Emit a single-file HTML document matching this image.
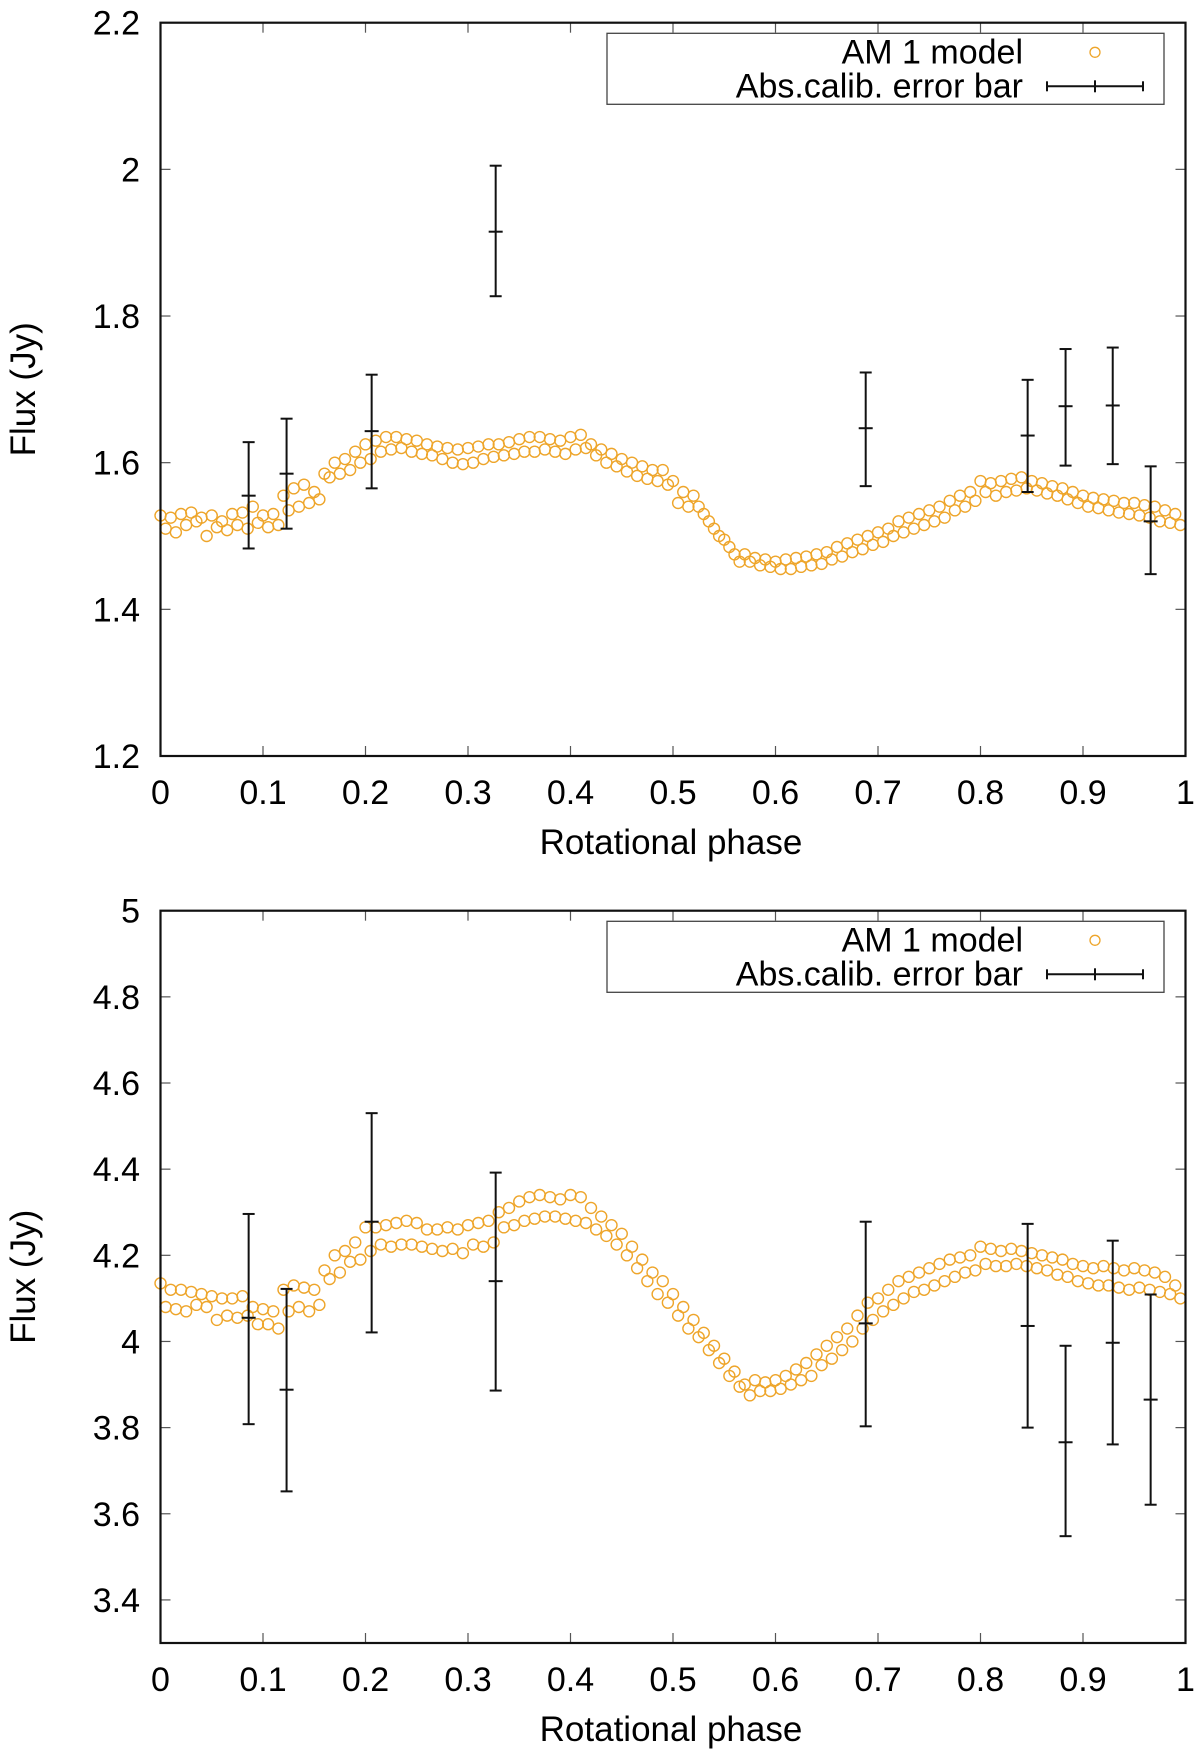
<!DOCTYPE html>
<html><head><meta charset="utf-8"><style>
html,body{margin:0;padding:0;background:#fff;}
svg{display:block;font-family:"Liberation Sans",Arial,sans-serif;}
</style></head><body>
<svg id="chart" width="1200" height="1757" viewBox="0 0 1200 1757" xmlns="http://www.w3.org/2000/svg"></svg>
<script>
// ---- data ----
const phases = [0.00,0.01,0.02,0.03,0.04,0.05,0.06,0.07,0.08,0.09,0.10,0.11,0.12,0.13,0.14,0.15,0.16,0.17,0.18,0.19,0.20,0.21,0.22,0.23,0.24,0.25,0.26,0.27,0.28,0.29,0.30,0.31,0.32,0.33,0.34,0.35,0.36,0.37,0.38,0.39,0.40,0.41,0.42,0.43,0.44,0.45,0.46,0.47,0.48,0.49,0.50,0.51,0.52,0.53,0.54,0.55,0.56,0.57,0.58,0.59,0.60,0.61,0.62,0.63,0.64,0.65,0.66,0.67,0.68,0.69,0.70,0.71,0.72,0.73,0.74,0.75,0.76,0.77,0.78,0.79,0.80,0.81,0.82,0.83,0.84,0.85,0.86,0.87,0.88,0.89,0.90,0.91,0.92,0.93,0.94,0.95,0.96,0.97,0.98,0.99];
const topModelA = [1.528,1.525,1.53,1.532,1.525,1.528,1.52,1.53,1.532,1.54,1.528,1.53,1.555,1.565,1.57,1.56,1.585,1.60,1.605,1.615,1.625,1.63,1.635,1.635,1.632,1.63,1.625,1.622,1.62,1.618,1.62,1.622,1.625,1.625,1.628,1.632,1.635,1.635,1.632,1.63,1.635,1.638,1.625,1.618,1.612,1.605,1.60,1.595,1.59,1.59,1.575,1.56,1.555,1.53,1.51,1.495,1.475,1.475,1.47,1.468,1.465,1.468,1.47,1.472,1.475,1.478,1.485,1.49,1.495,1.50,1.505,1.51,1.52,1.525,1.53,1.535,1.54,1.548,1.555,1.56,1.575,1.572,1.575,1.578,1.58,1.575,1.572,1.568,1.565,1.56,1.555,1.552,1.55,1.548,1.545,1.545,1.542,1.54,1.535,1.53];
const topModelB = [1.51,1.505,1.515,1.52,1.50,1.512,1.508,1.515,1.51,1.518,1.512,1.515,1.535,1.54,1.545,1.55,1.58,1.585,1.59,1.60,1.605,1.615,1.618,1.62,1.615,1.612,1.61,1.605,1.60,1.598,1.60,1.605,1.608,1.61,1.612,1.615,1.615,1.618,1.615,1.612,1.618,1.62,1.61,1.60,1.595,1.588,1.582,1.578,1.575,1.57,1.545,1.54,1.54,1.52,1.50,1.485,1.465,1.465,1.46,1.458,1.455,1.455,1.458,1.46,1.462,1.468,1.472,1.478,1.482,1.488,1.492,1.50,1.505,1.51,1.515,1.52,1.525,1.535,1.54,1.548,1.56,1.555,1.56,1.562,1.565,1.562,1.558,1.555,1.55,1.545,1.54,1.538,1.535,1.532,1.53,1.528,1.525,1.52,1.518,1.515];
const botModelA = [4.135,4.12,4.12,4.115,4.11,4.105,4.10,4.10,4.105,4.08,4.075,4.07,4.12,4.13,4.125,4.12,4.165,4.20,4.21,4.23,4.265,4.265,4.27,4.275,4.28,4.275,4.26,4.26,4.265,4.26,4.27,4.275,4.28,4.30,4.31,4.325,4.335,4.34,4.335,4.33,4.34,4.335,4.31,4.29,4.27,4.25,4.22,4.19,4.16,4.14,4.11,4.08,4.05,4.02,3.99,3.96,3.93,3.90,3.91,3.905,3.91,3.92,3.935,3.95,3.97,3.99,4.01,4.03,4.06,4.09,4.10,4.12,4.14,4.15,4.16,4.17,4.18,4.19,4.195,4.20,4.22,4.215,4.21,4.215,4.21,4.205,4.20,4.195,4.19,4.18,4.175,4.17,4.175,4.17,4.165,4.17,4.165,4.16,4.15,4.13];
const botModelB = [4.08,4.075,4.07,4.085,4.08,4.05,4.06,4.055,4.06,4.04,4.04,4.03,4.07,4.08,4.07,4.085,4.145,4.16,4.185,4.19,4.21,4.225,4.22,4.225,4.225,4.22,4.215,4.21,4.215,4.205,4.225,4.22,4.23,4.265,4.27,4.28,4.285,4.29,4.29,4.285,4.28,4.275,4.26,4.245,4.225,4.20,4.17,4.14,4.11,4.09,4.06,4.03,4.01,3.98,3.95,3.92,3.895,3.875,3.885,3.885,3.89,3.90,3.91,3.92,3.945,3.96,3.98,4.00,4.03,4.05,4.07,4.085,4.10,4.115,4.12,4.13,4.14,4.15,4.16,4.165,4.18,4.175,4.175,4.18,4.175,4.17,4.165,4.155,4.15,4.14,4.135,4.13,4.13,4.125,4.12,4.125,4.12,4.115,4.11,4.10];
const obsPhase = [0.086,0.123,0.206,0.327,0.688,0.846,0.883,0.929,0.966];
const topObs = [1.555,1.585,1.643,1.915,1.647,1.637,1.677,1.678,1.52];
const topObsLo = [1.483,1.51,1.565,1.827,1.568,1.56,1.596,1.598,1.448];
const topObsHi = [1.628,1.66,1.72,2.005,1.723,1.713,1.755,1.757,1.595];
const botObs = [4.055,3.888,4.278,4.14,4.042,4.036,3.766,3.997,3.865];
const botObsLo = [3.808,3.652,4.021,3.886,3.803,3.8,3.548,3.761,3.621];
const botObsHi = [4.296,4.122,4.53,4.392,4.278,4.273,3.99,4.234,4.109];
const xTicks = [0,0.1,0.2,0.3,0.4,0.5,0.6,0.7,0.8,0.9,1];
const xTickLabels = ["0","0.1","0.2","0.3","0.4","0.5","0.6","0.7","0.8","0.9","1"];
const topYTicks = [1.2,1.4,1.6,1.8,2.0,2.2];
const topYTickLabels = ["1.2","1.4","1.6","1.8","2","2.2"];
const botYTicks = [3.4,3.6,3.8,4.0,4.2,4.4,4.6,4.8,5.0];
const botYTickLabels = ["3.4","3.6","3.8","4","4.2","4.4","4.6","4.8","5"];

const NS = "http://www.w3.org/2000/svg";
const svg = document.getElementById('chart');
const ORANGE = "#eea52a";
const FS = 34;
function mk(tag, attrs, parent){const e=document.createElementNS(NS,tag);for(const k in attrs)e.setAttribute(k,attrs[k]);(parent||svg).appendChild(e);return e;}

function panel(cfg){
  const g = mk('g',{});
  
  
  const L=160.5,R=1185.5,T=cfg.top,B=cfg.bottom;
  const xs = v => L + (v-0)/(1-0)*(R-L);
  const ys = v => T + (cfg.ymax - v)/(cfg.ymax - cfg.ymin)*(B-T);
  xTicks.forEach((t,i)=>{
    const x=xs(t);
    if(i>0&&i<xTicks.length-1){
      const a=mk('line',{x1:x,x2:x,y1:B,y2:B-10,stroke:'#555','stroke-width':1.2},g);
       
      const b=mk('line',{x1:x,x2:x,y1:T,y2:T+10,stroke:'#555','stroke-width':1.2},g);
       
    }
    const tx=mk('text',{x:x,y:B+cfg.xlabOff,'text-anchor':'middle','font-size':FS,fill:'#000'},g);
    tx.textContent=xTickLabels[i];
     
  });
  cfg.yticks.forEach((t,i)=>{
    const y=ys(t);
    const a=mk('line',{x1:L,x2:L+10,y1:y,y2:y,stroke:'#555','stroke-width':1.2},g);
     
    const b=mk('line',{x1:R,x2:R-10,y1:y,y2:y,stroke:'#555','stroke-width':1.2},g);
     
    const tx=mk('text',{x:140,y:y+12,'text-anchor':'end','font-size':FS,fill:'#000'},g);
    tx.textContent=cfg.ylabels[i];
     
  });
  const mg=mk('g',{fill:'none',stroke:ORANGE,'stroke-width':1.4},g);
   
  phases.forEach((p,i)=>{
    const c1=mk('circle',{cx:xs(p),cy:ys(cfg.modelA[i]),r:5.5},mg);
     
    const c2=mk('circle',{cx:xs(p+0.005),cy:ys(cfg.modelB[i]),r:5.5},mg);
     
  });
  const eg=mk('g',{stroke:'#111','stroke-width':2},g);
   
  obsPhase.forEach((p,i)=>{
    const x=xs(p),yl=ys(cfg.lo[i]),yh=ys(cfg.hi[i]),yc=ys(cfg.obs[i]);
    const bg=mk('g',{},eg);
     
    mk('line',{x1:x,x2:x,y1:yl,y2:yh},bg);
    mk('line',{x1:x-6,x2:x+6,y1:yl,y2:yl},bg);
    mk('line',{x1:x-6,x2:x+6,y1:yh,y2:yh},bg);
    mk('line',{x1:x-7,x2:x+7,y1:yc,y2:yc},bg);
  });
  const fr=mk('rect',{x:L,y:T,width:R-L,height:B-T,fill:'none',stroke:'#111','stroke-width':2.2},g);
   
  const xt=mk('text',{x:671,y:B+cfg.xtitleOff,'text-anchor':'middle','font-size':35,fill:'#000'},g);
  xt.textContent='Rotational phase';
   
  const yc=(T+B)/2;
  const yt=mk('text',{x:0,y:0,'text-anchor':'middle','font-size':35,fill:'#000',transform:`translate(35,${yc}) rotate(-90)`},g);
  yt.textContent='Flux (Jy)';
   
  const lt=T+10.6;
  const lg=mk('g',{},g);
   
  mk('rect',{x:607,y:lt,width:557,height:71,fill:'#fff',stroke:'#444','stroke-width':1.3},lg);
  const t1=mk('text',{x:1023,y:lt+30,'text-anchor':'end','font-size':FS,fill:'#000'},lg);
  t1.textContent='AM 1 model';
   
  mk('circle',{cx:1095,cy:lt+19,r:5,fill:'none',stroke:ORANGE,'stroke-width':1.3},lg);
  const t2=mk('text',{x:1023,y:lt+64,'text-anchor':'end','font-size':FS,fill:'#000'},lg);
  t2.textContent='Abs.calib. error bar';
   
  const ly=lt+53;
  mk('line',{x1:1047,x2:1143,y1:ly,y2:ly,stroke:'#111','stroke-width':2},lg);
  mk('line',{x1:1047,x2:1047,y1:ly-5,y2:ly+5,stroke:'#111','stroke-width':2},lg);
  mk('line',{x1:1143,x2:1143,y1:ly-5,y2:ly+5,stroke:'#111','stroke-width':2},lg);
  mk('line',{x1:1095,x2:1095,y1:ly-6,y2:ly+6,stroke:'#111','stroke-width':2},lg);
}

panel({name:'top-panel',top:22.7,bottom:756,ymin:1.2,ymax:2.2,yticks:topYTicks,ylabels:topYTickLabels,
  modelA:topModelA,modelB:topModelB,obs:topObs,lo:topObsLo,hi:topObsHi,xlabOff:48,xtitleOff:98});
panel({name:'bottom-panel',top:910.7,bottom:1643,ymin:3.3,ymax:5.0,yticks:botYTicks,ylabels:botYTickLabels,
  modelA:botModelA,modelB:botModelB,obs:botObs,lo:botObsLo,hi:botObsHi,xlabOff:48,xtitleOff:98});
</script>
</body></html>
